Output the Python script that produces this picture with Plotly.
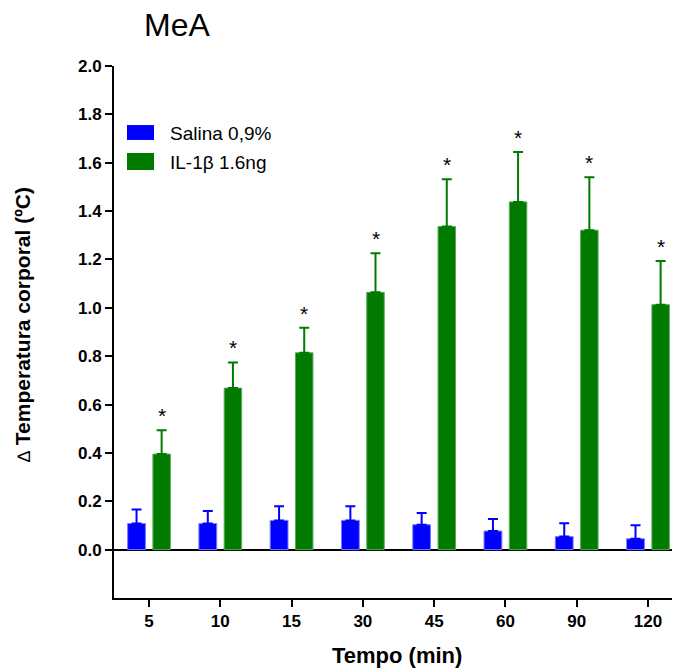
import plotly.graph_objects as go

categories = ["5", "10", "15", "30", "45", "60", "90", "120"]
salina_mean = [0.108, 0.108, 0.121, 0.121, 0.103, 0.077, 0.054, 0.045]
salina_sem = [0.058, 0.052, 0.058, 0.058, 0.049, 0.050, 0.055, 0.056]
il1b_mean = [0.395, 0.668, 0.814, 1.064, 1.336, 1.438, 1.321, 1.013]
il1b_sem = [0.099, 0.106, 0.104, 0.162, 0.196, 0.206, 0.219, 0.181]
significant = [True, True, True, True, True, True, True, True]
y_ticks = [0.0, 0.2, 0.4, 0.6, 0.8, 1.0, 1.2, 1.4, 1.6, 1.8, 2.0]

FONT = "Liberation Sans, Arial, sans-serif"
BLUE = "#0000ff"
GREEN = "#007b00"

x_idx = list(range(len(categories)))

fig = go.Figure()
fig.add_trace(go.Bar(
    x=x_idx, y=salina_mean, name="Salina 0,9%",
    width=0.25, offset=-0.30,
    marker=dict(color=BLUE, line=dict(color="#7b7bff", width=1)),
    error_y=dict(type="data", array=salina_sem, arrayminus=[0] * len(salina_sem),
                 symmetric=False, color=BLUE, thickness=2, width=5),
    showlegend=False,
))
fig.add_trace(go.Bar(
    x=x_idx, y=il1b_mean, name="IL-1β 1.6ng",
    width=0.245, offset=0.055,
    marker=dict(color=GREEN, line=dict(color="#5aa85a", width=1)),
    error_y=dict(type="data", array=il1b_sem, arrayminus=[0] * len(il1b_sem),
                 symmetric=False, color=GREEN, thickness=2, width=5),
    showlegend=False,
))

# significance stars
for i, (m, s, sig) in enumerate(zip(il1b_mean, il1b_sem, significant)):
    if sig:
        fig.add_annotation(x=i + 0.1775, y=m + s, text="*", showarrow=False,
                           xref="x", yref="y", yanchor="bottom", yshift=1,
                           font=dict(family=FONT, size=21, color="black"))

# custom legend
legend_items = [("Salina 0,9%", BLUE, 0.861, 0.889, 0.874),
                ("IL-1β 1.6ng", GREEN, 0.8045, 0.8365, 0.8195)]
for label, col, y0, y1, yt in legend_items:
    fig.add_shape(type="rect", xref="paper", yref="paper",
                  x0=0.0233, x1=0.0717, y0=y0, y1=y1,
                  fillcolor=col, line=dict(width=0))
    fig.add_annotation(xref="paper", yref="paper", x=0.0968, y=yt,
                       text=label, showarrow=False, xanchor="left", yanchor="middle",
                       font=dict(family=FONT, size=19, color="black"))

# title
fig.add_annotation(xref="paper", yref="paper", x=0.113, y=1.077, text="MeA",
                   showarrow=False, xanchor="center", yanchor="middle",
                   font=dict(family=FONT, size=32, color="black"))
# axis titles
fig.add_annotation(xref="paper", yref="paper", x=0.507, y=-0.109,
                   text="<b>Tempo (min)</b>", showarrow=False,
                   xanchor="center", yanchor="middle",
                   font=dict(family=FONT, size=22, color="black"))
fig.add_annotation(xref="paper", yref="paper", x=-0.1649, y=0.515,
                   text="<span style='font-size:18px'>∆</span> <b>Temperatura corporal (ºC)</b>",
                   showarrow=False,
                   textangle=-90, xanchor="center", yanchor="middle",
                   font=dict(family=FONT, size=21, color="black"))

fig.update_layout(
    width=673, height=671,
    margin=dict(l=114, r=1, t=66, b=73),
    plot_bgcolor="white", paper_bgcolor="white",
    barmode="overlay",
    xaxis=dict(
        range=[-0.491, 7.337], tickvals=x_idx, ticktext=categories,
        showline=True, linecolor="black", linewidth=2,
        ticks="outside", ticklen=7, tickwidth=2, tickcolor="black",
        showgrid=False, zeroline=False,
        tickfont=dict(family=FONT, size=17, color="black", weight="bold"),
    ),
    yaxis=dict(
        range=[-0.2, 2.0], tickvals=y_ticks, ticktext=[f"{v:.1f}" for v in y_ticks],
        showline=True, linecolor="black", linewidth=2,
        ticks="outside", ticklen=7, tickwidth=2, tickcolor="black",
        showgrid=False, zeroline=True, zerolinecolor="black", zerolinewidth=2,
        tickfont=dict(family=FONT, size=17, color="black", weight="bold"),
    ),
)

fig.write_html("out.html", config={"displayModeBar": False},
               post_script="document.body.style.margin='0';document.body.style.overflow='hidden';")
